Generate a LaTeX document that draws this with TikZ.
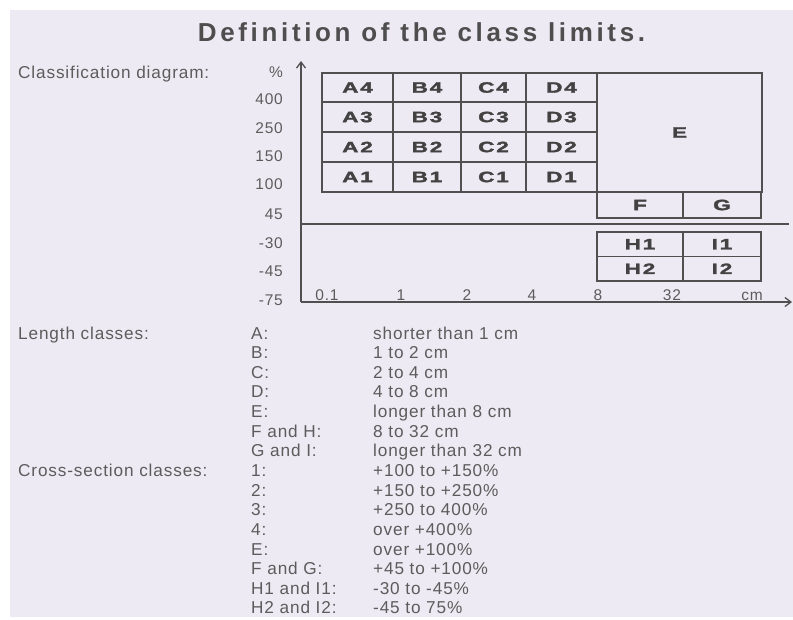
\documentclass[tikz,border=0pt]{standalone}
\usepackage{fontspec}
\usepackage{graphicx}
\setmainfont{Liberation Sans}
\newfontfamily\bodyfont[LetterSpace=5]{Liberation Sans}
\newfontfamily\titlefont[LetterSpace=14]{Liberation Sans}
\newfontfamily\cellfont[LetterSpace=8, FakeBold=1.8]{Liberation Sans Bold}
\usetikzlibrary{arrows.meta}
\definecolor{paper}{RGB}{238,234,243}
\definecolor{ink}{RGB}{92,92,92}
\definecolor{lineink}{RGB}{80,80,80}
\definecolor{cellink}{RGB}{66,66,66}
\newcommand\widelbl[1]{\scalebox{1.5}[1]{#1}}
\begin{document}
\begin{tikzpicture}[x=1pt,y=-1pt,
  txt/.style={font=\bodyfont\fontsize{17.2}{19}\selectfont, text=ink, inner sep=0pt},
  axlab/.style={font=\bodyfont\fontsize{15.5}{17}\selectfont, text=ink, inner sep=0pt},
  cell/.style={draw=lineink, line width=1.9pt, inner sep=0pt,
    font=\cellfont\fontsize{15}{16}\selectfont, text=cellink},
  axis/.style={draw=lineink, line width=1.7pt},
  tip/.style={-{Straight Barb[length=6pt,width=9pt,line width=1.3pt]}}
]
\fill[white] (0,0) rectangle (793,619);
\fill[paper] (10,10) rectangle (793,617);
\useasboundingbox (0,0) rectangle (793,619);

% title
\node[font=\titlefont\bfseries\fontsize{26}{29}\selectfont, text=ink!85!black,
      anchor=base, inner sep=0pt] (title) at (421.5,41) {Definition of the class limits.};
\node[txt, anchor=base west] (cd) at (18,78) {Classification diagram:};

% axes
\coordinate (O) at (301,302);
\coordinate (ytop) at (301,61);
\coordinate (xend) at (792,302);
\coordinate (m1) at (301,224);
\coordinate (m2) at (789,224);
\draw[axis, tip] (O) -- (ytop);
\draw[axis, tip] (O) -- (xend);
\draw[draw=lineink, line width=1.4pt] (m1) -- (m2);

% y labels
\foreach \t/\yy [count=\i] in {\%/72, 400/99, 250/128, 150/156, 100/184, 45/214, -30/243, -45/271, -75/300}
  \node[axlab, anchor=base east] (yl\i) at (283,\yy+5.5) {\t};
% x labels
\foreach \t/\xx [count=\i] in {0.1/327, 1/401, 2/467, 4/532, 8/598, 32/672, cm/752}
  \node[axlab, anchor=base] (xl\i) at (\xx,300.5) {\t};

% grid A-D
\foreach \c/\xa/\xb in {A/322/393, B/393/461, C/461/526, D/526/597}
  \foreach \r/\ya/\yb in {4/73/102, 3/102/132, 2/132/162, 1/162/192}
    \node[cell, minimum width={(\xb-\xa)*1pt}, minimum height={(\yb-\ya)*1pt}]
      (\c\r) at ({(\xa+\xb)/2},{(\ya+\yb)/2}) {\widelbl{\c\r}};

\node[cell, minimum width=165pt, minimum height=119pt] (E) at (679.5,132.5) {\widelbl{E}};
\node[cell, minimum width=86pt, minimum height=26pt] (F) at (640,205) {\widelbl{F}};
\node[cell, minimum width=78pt, minimum height=26pt] (G) at (722,205) {\widelbl{G}};
\node[cell, minimum width=86pt, minimum height=24.5pt] (H1) at (640,244.25) {\widelbl{H1}};
\node[cell, minimum width=78pt, minimum height=24.5pt] (I1) at (722,244.25) {\widelbl{I1}};
\node[cell, minimum width=86pt, minimum height=24.5pt] (H2) at (640,268.75) {\widelbl{H2}};
\node[cell, minimum width=78pt, minimum height=24.5pt] (I2) at (722,268.75) {\widelbl{I2}};

% legend
\node[txt, anchor=base west] (lc) at (18,339) {Length classes:};
\node[txt, anchor=base west] (csc) at (18,476.5) {Cross-section classes:};
\foreach \k/\v [count=\i from 0] in {A:/shorter than 1 cm, B:/1 to 2 cm, C:/2 to 4 cm,
   D:/4 to 8 cm, E:/longer than 8 cm, F and H:/8 to 32 cm, G and I:/longer than 32 cm,
   1:/+100 to +150\%, 2:/+150 to +250\%, 3:/+250 to 400\%, 4:/over +400\%,
   E:/over +100\%, F and G:/+45 to +100\%, H1 and I1:/-30 to -45\%, H2 and I2:/-45 to 75\%}
{
  \pgfmathsetmacro\yy{333+19.64*\i+6}
  \node[txt, anchor=base west] (k\i) at (251,\yy) {\k};
  \node[txt, anchor=base west] (v\i) at (373,\yy) {\v};
}
\end{tikzpicture}
\end{document}
